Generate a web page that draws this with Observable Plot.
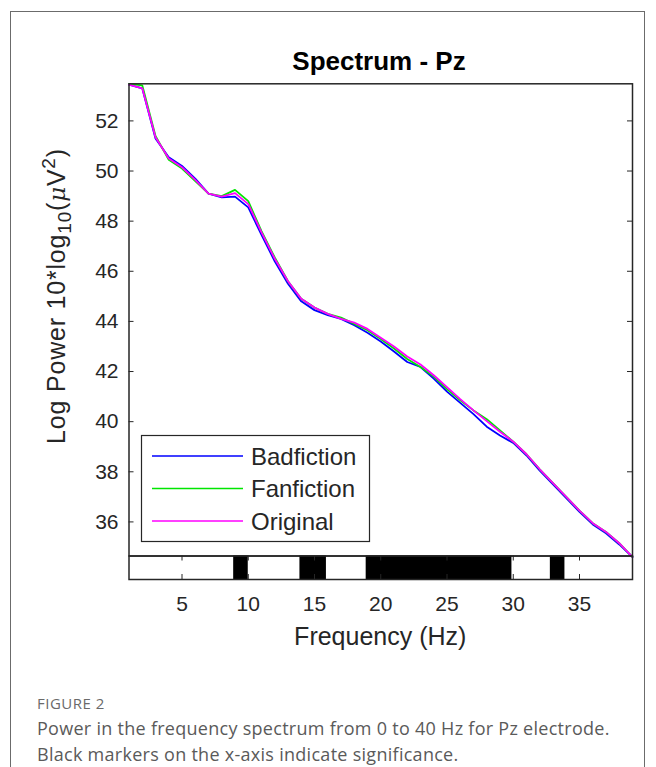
<!DOCTYPE html>
<html><head><meta charset="utf-8">
<script src="https://cdn.jsdelivr.net/npm/d3@7"></script>
<script src="https://cdn.jsdelivr.net/npm/@observablehq/plot@0.6"></script>
<style>
html,body{margin:0;padding:0;background:#fff;}
body{width:656px;height:767px;position:relative;overflow:hidden;font-family:'Liberation Sans',Arial,sans-serif;}
#card{position:absolute;left:10px;top:11px;width:635px;height:800px;border:1px solid #6b6b6b;box-sizing:border-box;}
.abs{position:absolute;left:0;}
#labels{position:absolute;left:0;top:0;pointer-events:none;}
.cap{position:absolute;left:37px;font-family:'Open Sans',sans-serif;color:#5a5a5a;white-space:nowrap;}
</style></head><body>
<div id="card"></div>
<div id="main" class="abs" style="top:0"></div>
<div id="strip" class="abs" style="top:555px"></div>
<svg id="labels" width="656" height="767"></svg>
<div class="cap" style="top:696px;font-size:15px;line-height:15px;letter-spacing:0.5px;color:#6a6a6a;">FIGURE 2</div>
<div class="cap" style="top:715px;font-size:18px;line-height:26px;letter-spacing:0.28px;">Power in the frequency spectrum from 0 to 40 Hz for Pz electrode.<br>Black markers on the x-axis indicate significance.</div>
<script>
// ---- data ----
const freqs = [1,2,3,4,5,6,7,8,9,10,11,12,13,14,15,16,17,18,19,20,21,22,23,24,25,26,27,28,29,30,31,32,33,34,35,36,37,38,39];
const badfiction = [53.45,53.3,51.3,50.55,50.2,49.7,49.1,48.95,48.98,48.55,47.45,46.4,45.5,44.8,44.45,44.25,44.1,43.85,43.55,43.2,42.8,42.38,42.18,41.72,41.2,40.75,40.3,39.8,39.45,39.15,38.65,38.05,37.5,36.95,36.4,35.9,35.55,35.1,34.6];
const fanfiction = [53.48,53.42,51.4,50.45,50.1,49.6,49.1,49.0,49.25,48.8,47.6,46.55,45.6,44.9,44.55,44.3,44.15,43.9,43.65,43.3,42.92,42.5,42.18,41.8,41.3,40.85,40.45,40.1,39.65,39.2,38.7,38.1,37.55,37.0,36.45,35.95,35.6,35.15,34.6];
const original = [53.45,53.3,51.35,50.5,50.15,49.65,49.1,48.98,49.12,48.68,47.55,46.5,45.6,44.9,44.55,44.3,44.1,43.95,43.7,43.35,43.0,42.6,42.28,41.85,41.38,40.9,40.45,40.02,39.6,39.2,38.7,38.1,37.55,37.0,36.45,35.95,35.6,35.15,34.6];
const seriesNames = ["Badfiction","Fanfiction","Original"];
const seriesColors = ["#0000ff","#00e600","#ff00ff"];
const sigStart = [8.9,13.9,18.9,32.8];
const sigEnd = [10.0,15.9,29.9,33.9];
const yTicks = [36,38,40,42,44,46,48,50,52];
const xTicks = [5,10,15,20,25,30,35];

const seriesValues = [badfiction, fanfiction, original];
const table = [];
seriesNames.forEach((name, s) => freqs.forEach((f, i) => table.push({series: name, freq: f, power: seriesValues[s][i]})));
const sig = sigStart.map((s, i) => ({start: s, end: sigEnd[i]}));

const axisColor = "#262626";
const ML = 128.5, MR = 24, W = 656;
const plotW = W - ML - MR;
const baseStyle = {fontFamily: "'Liberation Sans', Arial, sans-serif", fontSize: "21px", color: axisColor, background: "transparent", overflow: "visible"};

const main = Plot.plot({
  width: W, height: 560,
  marginLeft: ML, marginRight: MR, marginTop: 83.3, marginBottom: 4.5,
  x: {domain: [1, 39], axis: null},
  y: {domain: [34.64, 53.48]},
  color: {domain: seriesNames, range: seriesColors},
  style: baseStyle,
  marks: [
    Plot.line(table, {x: "freq", y: "power", z: "series", stroke: "series", strokeWidth: 1.8}),
    Plot.tickY(yTicks, {y: d => d, insetRight: plotW - 5, stroke: axisColor}),
    Plot.tickY(yTicks, {y: d => d, insetLeft: plotW - 5, stroke: axisColor}),
    Plot.axisY({ticks: yTicks, tickSize: 0, tickPadding: 10.5, label: null, fontSize: 21}),
    Plot.frame({stroke: axisColor, strokeWidth: 1.5})
  ]
});
document.getElementById("main").appendChild(main);

const SH = 110, SMT = 0.5, SMB = 86;
const stripH = SH - SMT - SMB;
const strip = Plot.plot({
  width: W, height: SH,
  marginLeft: ML, marginRight: MR, marginTop: SMT, marginBottom: SMB,
  x: {domain: [1, 39]},
  style: baseStyle,
  marks: [
    Plot.barX(sig, {x1: "start", x2: "end", fill: "black"}),
    Plot.tickX(xTicks, {x: d => d, insetBottom: stripH - 5, stroke: axisColor}),
    Plot.tickX(xTicks, {x: d => d, insetTop: stripH - 5, stroke: axisColor}),
    Plot.axisX({ticks: xTicks, tickSize: 0, tickPadding: 16.5, label: null, fontSize: 21}),
    Plot.frame({stroke: axisColor, strokeWidth: 1.5})
  ]
});
document.getElementById("strip").appendChild(strip);

// ---- titles, axis labels, legend ----
const svg = d3.select("#labels");
const ff = "'Liberation Sans', Arial, sans-serif";
svg.append("text").attr("x", 379).attr("y", 70).attr("text-anchor", "middle")
  .attr("font-family", ff).attr("font-weight", "bold").attr("font-size", 26).attr("fill", "#000")
  .text("Spectrum - Pz");
svg.append("text").attr("x", 380.25).attr("y", 645).attr("text-anchor", "middle")
  .attr("font-family", ff).attr("font-size", 25).attr("fill", axisColor)
  .text("Frequency (Hz)");
const yl = svg.append("text").attr("transform", "translate(65,296) rotate(-90)").attr("text-anchor", "middle")
  .attr("font-family", ff).attr("font-size", 25).attr("letter-spacing", 0.8).attr("fill", axisColor);
yl.append("tspan").text("Log Power 10*log");
yl.append("tspan").attr("dy", 6).attr("font-size", 19).text("10");
yl.append("tspan").attr("dy", -6).text("(");
yl.append("tspan").attr("font-style", "italic").attr("font-family", "'DejaVu Serif', serif").attr("font-size", 23).text("\u03bc");
yl.append("tspan").text("V");
yl.append("tspan").attr("dy", -10).attr("font-size", 19).text("2");
yl.append("tspan").attr("dy", 10).text(")");

const lg = svg.append("g");
lg.append("rect").attr("x", 141.5).attr("y", 435.5).attr("width", 228).attr("height", 106)
  .attr("fill", "#fff").attr("stroke", axisColor).attr("stroke-width", 1.2);
seriesNames.forEach((name, i) => {
  const cy = 456 + i * 32.5;
  lg.append("line").attr("x1", 152).attr("x2", 243).attr("y1", cy).attr("y2", cy)
    .attr("stroke", seriesColors[i]).attr("stroke-width", 1.6);
  lg.append("text").attr("x", 251).attr("y", cy + 8.6).attr("font-family", ff).attr("font-size", 24)
    .attr("fill", axisColor).text(name);
});
</script>
</body></html>
